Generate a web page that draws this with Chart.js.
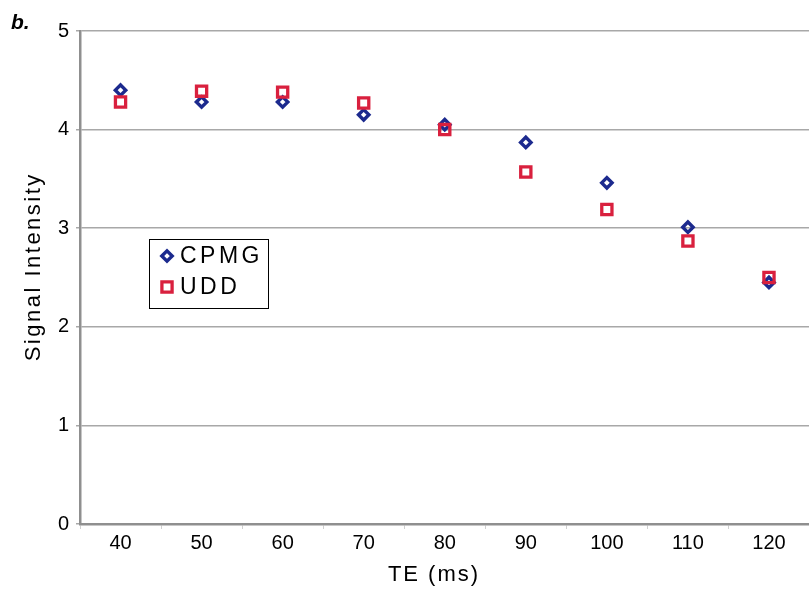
<!DOCTYPE html>
<html>
<head>
<meta charset="utf-8">
<script src="https://cdn.jsdelivr.net/npm/chart.js@4.4.1/dist/chart.umd.min.js"></script>
<style>
  html, body { margin: 0; padding: 0; background: #fff; overflow: hidden; }
  #wrap { position: relative; width: 820px; height: 590px; }
  canvas { display: block; }
</style>
</head>
<body>
<div id="wrap"><canvas id="c" width="820" height="590"></canvas></div>
<script>
const teLabels = ['40', '50', '60', '70', '80', '90', '100', '110', '120'];
const cpmgValues = [4.40, 4.28, 4.28, 4.15, 4.05, 3.87, 3.46, 3.01, 2.45];
const uddValues = [4.28, 4.39, 4.38, 4.27, 4.00, 3.57, 3.19, 2.87, 2.50];
const yTicks = [0, 1, 2, 3, 4, 5];
const seriesNames = ['CPMG', 'UDD'];
const xTitle = 'TE (ms)';
const yTitle = 'Signal Intensity';
const panelLabel = 'b.';

const NAVY = '#1c2a8e';
const RED = '#d9203e';
const FONT = '"Liberation Sans", Arial, sans-serif';

function spacedText(ctx, text, x, y, spacing) {
  ctx.letterSpacing = spacing + 'px';
  const w = ctx.measureText(text).width - spacing;
  return w;
}

const overlayPlugin = {
  id: 'overlay',
  afterDraw(chart) {
    const ctx = chart.ctx;
    ctx.save();
    // panel label
    ctx.fillStyle = '#000';
    ctx.font = 'bold italic 21px ' + FONT;
    ctx.textBaseline = 'alphabetic';
    ctx.textAlign = 'left';
    ctx.fillText(panelLabel, 11, 29);

    // x title
    ctx.font = '22px ' + FONT;
    ctx.textBaseline = 'middle';
    ctx.textAlign = 'left';
    let w = spacedText(ctx, xTitle, 0, 0, 2);
    ctx.fillText(xTitle, 433 - w / 2, 575);

    // y title
    ctx.save();
    ctx.translate(34, 268);
    ctx.rotate(-Math.PI / 2);
    ctx.font = '22px ' + FONT;
    w = spacedText(ctx, yTitle, 0, 0, 2.5);
    ctx.fillText(yTitle, -w / 2, 0);
    ctx.restore();

    // legend box
    ctx.letterSpacing = '0px';
    ctx.strokeStyle = '#000';
    ctx.lineWidth = 1;
    ctx.strokeRect(149.5, 239.5, 119, 69);
    const ys = [256, 287];
    chart.data.datasets.forEach((ds, i) => {
      ctx.save();
      ctx.strokeStyle = ds.pointBorderColor;
      ctx.fillStyle = 'rgba(0,0,0,0)';
      ctx.lineWidth = ds.pointBorderWidth;
      Chart.helpers.drawPoint(ctx, {
        pointStyle: ds.pointStyle,
        radius: ds.pointRadius,
        rotation: 0,
        borderWidth: ds.pointBorderWidth
      }, 167, ys[i]);
      ctx.restore();
      ctx.fillStyle = '#000';
      ctx.font = '23px ' + FONT;
      ctx.textBaseline = 'middle';
      ctx.textAlign = 'left';
      ctx.letterSpacing = '3.5px';
      ctx.fillText(ds.label, 180, ys[i] + 1);
      ctx.letterSpacing = '0px';
    });
    ctx.restore();
  }
};

new Chart(document.getElementById('c'), {
  type: 'line',
  data: {
    labels: teLabels,
    datasets: [
      {
        label: seriesNames[0],
        data: cpmgValues,
        showLine: false,
        pointStyle: 'rectRot',
        pointRadius: 5.2,
        pointHoverRadius: 5.2,
        pointBorderWidth: 3.4,
        pointBorderColor: NAVY,
        pointBackgroundColor: 'rgba(0,0,0,0)',
        borderColor: NAVY,
        backgroundColor: 'rgba(0,0,0,0)',
        order: 1
      },
      {
        label: seriesNames[1],
        data: uddValues,
        showLine: false,
        pointStyle: 'rect',
        pointRadius: 7.2,
        pointHoverRadius: 7.2,
        pointBorderWidth: 3.3,
        pointBorderColor: RED,
        pointBackgroundColor: 'rgba(0,0,0,0)',
        borderColor: RED,
        backgroundColor: 'rgba(0,0,0,0)',
        order: 0
      }
    ]
  },
  options: {
    responsive: false,
    animation: false,
    devicePixelRatio: 1,
    layout: { padding: { top: 31, right: 3, left: 0, bottom: 0 } },
    plugins: {
      legend: { display: false },
      tooltip: { enabled: false },
      title: { display: false }
    },
    events: [],
    scales: {
      x: {
        type: 'category',
        offset: true,
        grid: {
          offset: true,
          drawOnChartArea: false,
          drawTicks: true,
          tickLength: 5,
          color: '#d0d0d0',
          lineWidth: 1
        },
        border: { display: true, color: '#8f8f8f', width: 2.5 },
        ticks: {
          color: '#000',
          font: { family: FONT, size: 20 },
          padding: 2,
          maxRotation: 0,
          autoSkip: false
        },
        afterFit(scale) { scale.height = 66; }
      },
      y: {
        min: yTicks[0],
        max: yTicks[yTicks.length - 1],
        afterBuildTicks(scale) { scale.ticks = yTicks.map(v => ({ value: v })); },
        grid: {
          color: '#a8a8a8',
          lineWidth: 1.5,
          drawTicks: true,
          tickLength: 4,
          tickColor: '#a8a8a8'
        },
        border: { display: true, color: '#8f8f8f', width: 2.5 },
        ticks: {
          color: '#000',
          font: { family: FONT, size: 20 },
          padding: 7
        },
        afterFit(scale) { scale.width = 80; }
      }
    }
  },
  plugins: [overlayPlugin]
});
</script>
</body>
</html>
